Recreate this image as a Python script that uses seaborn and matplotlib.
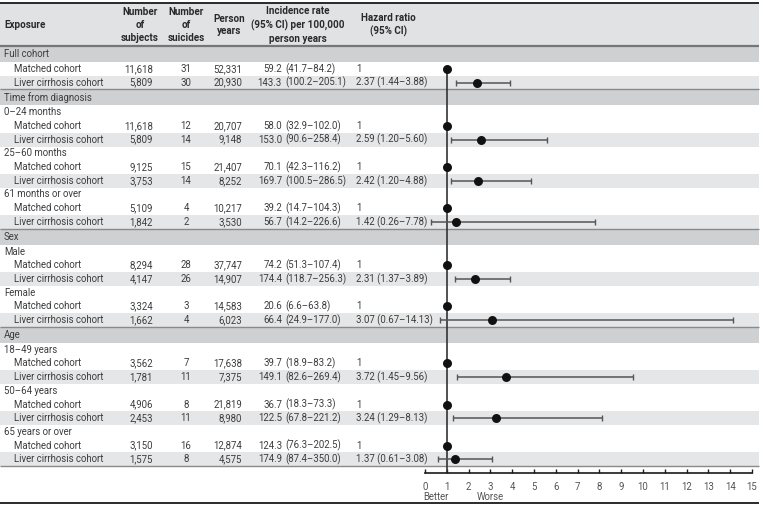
import numpy as np
import pandas as pd
import matplotlib
matplotlib.use("Agg")
import matplotlib.pyplot as plt
import seaborn as sns

sns.set_theme(style="white")
plt.rcParams["font.family"] = ["Roboto", "DejaVu Sans"]

sections = ["Full cohort", "Time from diagnosis", "Time from diagnosis", "Time from diagnosis",
            "Sex", "Sex", "Age", "Age", "Age"]
subgroups = ["", "0–24 months", "25–60 months", "61 months or over", "Male", "Female",
             "18–49 years", "50–64 years", "65 years or over"]

matched_n = [11618, 11618, 9125, 5109, 8294, 3324, 3562, 4906, 3150]
matched_events = [31, 12, 15, 4, 28, 3, 7, 8, 16]
matched_py = [52331, 20707, 21407, 10217, 37747, 14583, 17638, 21819, 12874]
matched_rate = [59.2, 58.0, 70.1, 39.2, 74.2, 20.6, 39.7, 36.7, 124.3]
matched_rate_lo = [41.7, 32.9, 42.3, 14.7, 51.3, 6.6, 18.9, 18.3, 76.3]
matched_rate_hi = [84.2, 102.0, 116.2, 104.3, 107.4, 63.8, 83.2, 73.3, 202.5]

cirr_n = [5809, 5809, 3753, 1842, 4147, 1662, 1781, 2453, 1575]
cirr_events = [30, 14, 14, 2, 26, 4, 11, 11, 8]
cirr_py = [20930, 9148, 8252, 3530, 14907, 6023, 7375, 8980, 4575]
cirr_rate = [143.3, 153.0, 169.7, 56.7, 174.4, 66.4, 149.1, 122.5, 174.9]
cirr_rate_lo = [100.2, 90.6, 100.5, 14.2, 118.7, 24.9, 82.6, 67.8, 87.4]
cirr_rate_hi = [205.1, 258.4, 286.5, 226.6, 256.3, 177.0, 269.4, 221.2, 350.0]

hr = [2.37, 2.59, 2.42, 1.42, 2.31, 3.07, 3.72, 3.24, 1.37]
hr_lo = [1.44, 1.20, 1.20, 0.26, 1.37, 0.67, 1.45, 1.29, 0.61]
hr_hi = [3.88, 5.60, 4.88, 7.78, 3.89, 14.13, 9.56, 8.13, 3.08]

# ---- build the row layout ----
rows = []
prev = None
for i in range(len(subgroups)):
    if sections[i] != prev:
        rows.append(dict(kind="section", label=sections[i], g=i))
        prev = sections[i]
    if subgroups[i]:
        rows.append(dict(kind="sub", label=subgroups[i], g=i))
    rows.append(dict(kind="matched", label="Matched cohort", g=i))
    rows.append(dict(kind="liver", label="Liver cirrhosis cohort", g=i))
tbl = pd.DataFrame(rows)
heights = np.where(tbl["kind"] == "section", 16.0, 13.7)
tbl["top"] = 46 + np.concatenate([[0], np.cumsum(heights)[:-1]])
tbl["bottom"] = tbl["top"] + heights
tbl["y"] = tbl["top"] + heights / 2

W, H = 763, 508
RIGHT = 759
HEAD_BG = "#e1e2e3"
SEC_BG = "#cfd0d1"
LIV_BG = "#e5e6e7"
TXT = "#3d3d3d"
FS = 6.9

fig = plt.figure(figsize=(W / 100, H / 100), dpi=100)
tax = fig.add_axes([0, 0, 1, 1])
tax.set_xlim(0, W)
tax.set_ylim(H, 0)
tax.axis("off")

# header
tax.axhspan(3, 46, xmin=0, xmax=RIGHT / W, color=HEAD_BG, lw=0)
hkw = dict(fontsize=FS + 0.2, fontweight="bold", color="#2a2a2a", va="center", linespacing=1.35)
tax.text(4, 25, "Exposure", ha="left", **hkw)
tax.text(140, 25, "Number\nof\nsubjects", ha="center", multialignment="center", **hkw)
tax.text(186, 25, "Number\nof\nsuicides", ha="center", multialignment="center", **hkw)
tax.text(229, 25, "Person\nyears", ha="center", multialignment="center", **hkw)
tax.text(298, 25, "Incidence rate\n(95% CI) per 100,000\nperson years", ha="center",
         multialignment="center", **hkw)
tax.text(388, 25, "Hazard ratio\n(95% CI)", ha="center", multialignment="center", **hkw)

tkw = dict(fontsize=FS, color=TXT, va="center")
for _, r in tbl.iterrows():
    if r["kind"] == "section":
        tax.axhspan(r["top"], r["bottom"], xmin=0, xmax=RIGHT / W, color=SEC_BG, lw=0)
        if r["g"] > 0:
            tax.hlines(r["top"], 0, RIGHT, color="#8a8a8a", lw=1)
        tax.text(4, r["y"], r["label"], ha="left", **tkw)
    elif r["kind"] == "sub":
        tax.text(4, r["y"], r["label"], ha="left", **tkw)
    else:
        g = r["g"]
        if r["kind"] == "matched":
            n, ev, py = matched_n[g], matched_events[g], matched_py[g]
            rt, lo, hi = matched_rate[g], matched_rate_lo[g], matched_rate_hi[g]
            hr_txt = "1"
        else:
            tax.axhspan(r["top"], r["bottom"], xmin=0, xmax=RIGHT / W, color=LIV_BG, lw=0)
            n, ev, py = cirr_n[g], cirr_events[g], cirr_py[g]
            rt, lo, hi = cirr_rate[g], cirr_rate_lo[g], cirr_rate_hi[g]
            hr_txt = f"{hr[g]:.2f} ({hr_lo[g]:.2f}–{hr_hi[g]:.2f})"
        y = r["y"]
        tax.text(14, y, r["label"], ha="left", **tkw)
        tax.text(153, y, f"{n:,}", ha="right", **tkw)
        tax.text(186, y, f"{ev}", ha="center", **tkw)
        tax.text(242, y, f"{py:,}", ha="right", **tkw)
        tax.text(282, y, f"{rt:.1f}", ha="right", **tkw)
        tax.text(285, y, f"({lo:.1f}–{hi:.1f})", ha="left", **tkw)
        tax.text(356, y, hr_txt, ha="left", **tkw)

# rules
tax.hlines(3, 0, RIGHT, color="#1a1a1a", lw=1.3)
tax.hlines(46, 0, RIGHT, color="#767676", lw=1.6)
tax.hlines(tbl["bottom"].iloc[-1], 0, RIGHT, color="#8a8a8a", lw=1)
tax.hlines(503, 0, RIGHT, color="#1a1a1a", lw=1.3)

# ---- forest plot ----
AX_TOP, AX_BOT = 46, 473
X0, X1 = 425, 752
fax = fig.add_axes([X0 / W, 1 - AX_BOT / H, (X1 - X0) / W, (AX_BOT - AX_TOP) / H])
fax.patch.set_alpha(0)

pts = tbl[tbl["kind"].isin(["matched", "liver"])].copy()
pts["hr"] = [1.0 if k == "matched" else hr[g] for k, g in zip(pts["kind"], pts["g"])]
liv = pts[pts["kind"] == "liver"]
lo_arr = np.array([hr_lo[g] for g in liv["g"]])
hi_arr = np.array([hr_hi[g] for g in liv["g"]])

first_y = pts["y"].iloc[0]
fax.vlines(1, first_y, AX_BOT, color="#333333", lw=1.2, zorder=2)
fax.errorbar(liv["hr"], liv["y"], xerr=[liv["hr"] - lo_arr, hi_arr - liv["hr"]],
             fmt="none", ecolor="#555555", elinewidth=1.1, capsize=2, capthick=1, zorder=3)
sns.scatterplot(data=pts, x="hr", y="y", ax=fax, color="#111111", s=42, linewidth=0,
                zorder=4, legend=False)

fax.set_xlim(0, 15)
fax.set_ylim(AX_BOT, AX_TOP)
fax.set_xlabel("")
fax.set_ylabel("")
fax.set_yticks([])
fax.set_xticks(range(0, 16))
for s in ["top", "left", "right"]:
    fax.spines[s].set_visible(False)
fax.spines["bottom"].set_color("#1a1a1a")
fax.spines["bottom"].set_linewidth(1.2)
fax.tick_params(axis="x", direction="in", length=3, width=1, color="#1a1a1a",
                labelsize=FS, labelcolor="#555555", pad=6.5, bottom=True)
fax.text(0.5, 497, "Better", ha="center", va="center", fontsize=FS, color="#555555")
fax.text(3.0, 497, "Worse", ha="center", va="center", fontsize=FS, color="#555555")

fig.savefig("out.png", dpi=100)
